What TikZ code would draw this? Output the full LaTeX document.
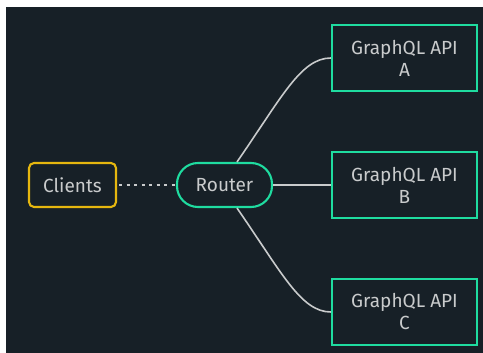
\documentclass[tikz,border=0pt]{standalone}
\usepackage{fontspec}
\setmainfont{Fira Sans}
\usetikzlibrary{positioning}

\definecolor{bgdark}{HTML}{172027}
\definecolor{apigreen}{HTML}{1FDCA0}
\definecolor{clientyellow}{HTML}{E6B70F}
\definecolor{txtgrey}{HTML}{C9CBCC}

\begin{document}
\begin{tikzpicture}[x=1pt,y=-1pt,
  every node/.style={text=txtgrey,font=\fontsize{19}{22}\selectfont},
  clientbox/.style={draw=clientyellow,line width=2.1pt,rounded corners=5pt,
    minimum width=87pt,minimum height=44pt,inner sep=0pt},
  routerbox/.style={draw=apigreen,line width=2.1pt,rounded corners=21pt,
    minimum width=95pt,minimum height=44pt,inner sep=0pt},
  apibox/.style={draw=apigreen,line width=2.1pt,align=center,
    minimum width=145pt,minimum height=66pt,inner sep=0pt},
  link/.style={draw=txtgrey,line width=1.6pt}]
\fill[white] (0,0) rectangle (483,353);
\fill[bgdark] (6,7) rectangle (483,353);

\node[clientbox] (clients) at (72.5,185) {Clients};
\node[routerbox] (router) at (224.5,185) {Router};
\node[apibox] (apiA) at (404.5,58) {GraphQL API\\A};
\node[apibox] (apiB) at (404.5,185) {GraphQL API\\B};
\node[apibox] (apiC) at (404.5,312) {GraphQL API\\C};

\draw[link,line width=2pt,dash pattern=on 3pt off 4.5pt] ([xshift=2pt]clients.east) -- (router.west);
\draw[link] ([xshift=12.5pt]router.north) .. controls +(45,-65) and +(-30,0) .. (apiA.west);
\draw[link] (router) -- (apiB);
\draw[link] ([xshift=12.5pt]router.south) .. controls +(45,65) and +(-30,0) .. (apiC.west);
\end{tikzpicture}
\end{document}
